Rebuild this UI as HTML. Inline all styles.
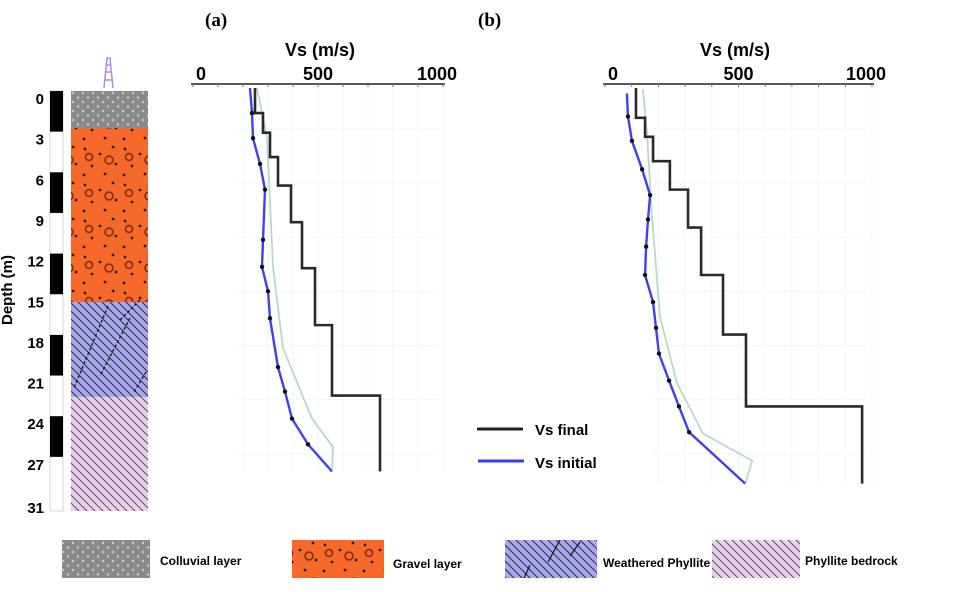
<!DOCTYPE html>
<html><head><meta charset="utf-8">
<style>
html,body{margin:0;padding:0;background:#fff;}
body{width:976px;height:587px;overflow:hidden;font-family:"Liberation Sans",sans-serif;}
svg text{font-family:"Liberation Sans",sans-serif;font-weight:bold;}
</style></head>
<body>
<svg id="fig" width="976" height="587" viewBox="0 0 976 587" xmlns="http://www.w3.org/2000/svg">
<defs>
<pattern id="pDots" width="10" height="9" patternUnits="userSpaceOnUse"><rect width="10" height="9" fill="#8a8a8a"/><circle cx="3" cy="3" r="1.2" fill="#c8c8c8"/><circle cx="8" cy="7.5" r="1.2" fill="#c8c8c8"/></pattern>
<pattern id="pGravel" width="40" height="36" patternUnits="userSpaceOnUse"><rect width="40" height="36" fill="#f7682b"/><circle cx="5" cy="5" r="1.4" fill="#222"/><circle cx="20" cy="10" r="1.4" fill="#222"/><circle cx="33" cy="3" r="1.4" fill="#222"/><circle cx="12" cy="22" r="1.4" fill="#222"/><circle cx="36" cy="20" r="1.4" fill="#222"/><circle cx="25" cy="30" r="1.4" fill="#222"/><circle cx="4" cy="31" r="1.4" fill="#222"/><circle cx="29" cy="16" r="4" fill="none" stroke="#7a2a10" stroke-width="1.5"/><circle cx="9" cy="13" r="3.5" fill="none" stroke="#7a2a10" stroke-width="1.5"/></pattern>
<pattern id="pWeath" width="8" height="8" patternUnits="userSpaceOnUse"><rect width="8" height="8" fill="#a8a8f2"/><path d="M0,0 L8,8 M-4,4 L4,12 M4,-4 L12,4" stroke="#333" stroke-width="1.1"/></pattern>
<pattern id="pBed" width="8" height="8" patternUnits="userSpaceOnUse"><rect width="8" height="8" fill="#ecd0f0"/><path d="M0,0 L8,8 M-4,4 L4,12 M4,-4 L12,4" stroke="#555" stroke-width="1"/></pattern>
</defs>

<g>
  <text x="12" y="290" font-size="15" text-anchor="middle" transform="rotate(-90 12 290)">Depth (m)</text>
  <rect x="50" y="91" width="13" height="420" fill="#fff" stroke="#ccc" stroke-width="0.8"/>
  <g id="scaleBlocks"></g>
  <g id="depthLabels" font-size="15" text-anchor="end"></g>
</g>
<g>
  <rect x="71" y="91" width="77" height="37" fill="url(#pDots)"/>
  <rect x="71" y="128" width="77" height="174" fill="url(#pGravel)"/>
  <rect x="71" y="302" width="77" height="95" fill="url(#pWeath)"/>
  <path d="M108,306 L74,388 M130,318 L100,376 M146,372 L134,392 M140,300 L120,320" stroke="#111" stroke-width="1.3" stroke-dasharray="3,2"/>
  <rect x="71" y="397" width="77" height="114" fill="url(#pBed)"/>
  <g stroke="#b48ae6" stroke-width="1.5" fill="none">
    <path d="M104,88 L107,58 L110,58 L113,88 M104,80 L113,80 M105,72 L112,72 M106,65 L111,65"/>
  </g>
</g>

<text x="205" y="26" font-size="19" style="font-family:'Liberation Serif',serif">(a)</text>
<text x="478" y="26" font-size="19" style="font-family:'Liberation Serif',serif">(b)</text>

<g id="panelA"></g>
<g id="panelB"></g>

<g>
  <g>
    <line x1="477" y1="429" x2="523" y2="429" stroke="#222" stroke-width="3"/>
    <text x="535" y="435" font-size="15">Vs final</text>
  </g>
  <g>
    <line x1="478" y1="461" x2="524" y2="461" stroke="#3a3af0" stroke-width="3"/>
    <text x="535" y="468" font-size="15">Vs initial</text>
  </g>
</g>

<g font-size="12">
  <rect x="62" y="540" width="88" height="38" fill="url(#pDots)"/>
  <text x="160" y="565">Colluvial layer</text>
  <rect x="292" y="540" width="92" height="38" fill="url(#pGravel)"/>
  <text x="393" y="568">Gravel layer</text>
  <rect x="505" y="540" width="92" height="38" fill="url(#pWeath)"/>
  <path d="M560,540 L548,562 M580,542 L570,556 M530,565 L524,578" stroke="#111" stroke-width="1.2"/>
  <text x="603" y="567">Weathered Phyllite</text>
  <rect x="712" y="540" width="88" height="38" fill="url(#pBed)"/>
  <text x="805" y="565">Phyllite bedrock</text>
</g>
</svg>

<script>
const NS = "http://www.w3.org/2000/svg";
const depthTicks = [0,3,6,9,12,15,18,21,24,27,31];
const scaleBlocks = [[0,3],[6,9],[12,15],[18,21],[24,27]];

// Panel (a) data
const aFinalDepth = [0,1.85,3.3,5.1,7.2,9.9,13.3,17.5,22.7,28.3];
const aFinalVs = [248,280,308,340,392,436,488,556,748];
const aInitDepth = [0,1.85,3.7,5.6,7.5,11.2,13.2,15.0,17.0,20.6,22.4,24.4,26.3,28.3];
const aInitVs = [228,236,240,268,288,280,276,300,308,340,368,396,460,556];
const aBandDepth = [0,3.7,13.2,19.2,24.4,26.5,28.2];
const aBandVs = [256,296,320,360,476,560,556];
// Panel (b) data
const bFinalDepth = [0,2.2,3.6,5.4,7.5,10.3,13.8,18.2,23.5,29.2];
const bFinalVs = [116,150,180,243,311,360,442,528,963];
const bInitDepth = [0.4,2.1,3.9,6.0,7.9,9.7,11.7,13.8,15.8,17.7,19.6,21.6,23.5,25.4,29.2];
const bInitVs = [82,86,101,139,169,161,154,150,180,191,202,240,277,315,525];
const bBandDepth = [0.1,3.3,9.5,16.9,21.8,25.5,27.5,29.2];
const bBandVs = [142,157,176,206,270,367,551,525];
const tickVals = [0,500,1000];

function el(tag, attrs, parent){ const e=document.createElementNS(NS,tag); for(const k in attrs) e.setAttribute(k,attrs[k]); parent.appendChild(e); return e; }

const dY = d => 91 + d*13.55;
const sb = document.getElementById('scaleBlocks');
scaleBlocks.forEach(b=>{
  const r = el('rect',{x:50,y:dY(b[0]),width:13,height:dY(b[1])-dY(b[0]),fill:'#000'},sb);
  
  
});
const dl = document.getElementById('depthLabels');
depthTicks.forEach(d=>{
  const t = el('text',{x:44,y:Math.min(dY(d)+13, 513)},dl);
  t.textContent = d;
  
  
});

function panel(g, x0, x1, y0, pxPerM, fD, fV, iD, iV, bD, bV, bottomD, titleX){
  const xs = v => x0 + (x1-x0)*v/1000;
  const ys = d => y0 + d*pxPerM;
  const grid = el('g',{stroke:'#f3f4f7','stroke-width':1},g);
  
  
  for(let v=200; v<=1000; v+=100){ el('line',{x1:xs(v),y1:ys(0),x2:xs(v),y2:ys(bottomD)},grid); }
  for(let d=3; d<bottomD; d+=4){ el('line',{x1:xs(180),y1:ys(d),x2:xs(980),y2:ys(d)},grid); }
  const at = el('text',{x:titleX,y:56,'font-size':18,'text-anchor':'middle'},g);
  at.textContent='Vs (m/s)';
  
  
  const ax = el('line',{x1:x0-2,y1:84,x2:x1+2,y2:84,stroke:'#222','stroke-width':1.6},g);
  
  
  for(let v=0; v<=1000; v+=100){ el('line',{x1:xs(v),y1:84,x2:xs(v),y2:87,stroke:'#777','stroke-width':1},g); }
  tickVals.forEach(v=>{
    const t = el('text',{x:xs(v)+(v===0?8:(v===1000?-6:0)),y:80,'font-size':18,'text-anchor':'middle'},g);
    t.textContent=v;
    
    
  });
  const band = el('polyline',{points:bD.map((d,i)=>xs(bV[i])+','+ys(d)).join(' '),fill:'none',stroke:'#b9d9c9','stroke-width':1.8},g);
  
  
  const ini = el('polyline',{points:iD.map((d,i)=>xs(iV[i])+','+ys(d)).join(' '),fill:'none',stroke:'#4040ee','stroke-width':2.4,'stroke-linejoin':'round'},g);
  
  
  for(let i=1;i<iD.length-1;i++){
    const c = el('circle',{cx:xs(iV[i]),cy:ys(iD[i]),r:2.2,fill:'#111'},g);
    
    
  }
  let s = 'M'+xs(fV[0])+','+ys(fD[0]);
  for(let i=0;i<fV.length;i++){
    s += ' L'+xs(fV[i])+','+ys(fD[i+1]);
    if(i+1<fV.length) s += ' L'+xs(fV[i+1])+','+ys(fD[i+1]);
  }
  const fin = el('path',{d:s,fill:'none',stroke:'#2a2a2a','stroke-width':2.6},g);
  
  
}
panel(document.getElementById('panelA'),193,443,88,13.55,aFinalDepth,aFinalVs,aInitDepth,aInitVs,aBandDepth,aBandVs,28.3,320);
panel(document.getElementById('panelB'),605,872,88,13.55,bFinalDepth,bFinalVs,bInitDepth,bInitVs,bBandDepth,bBandVs,29.2,735);
</script>
</body></html>
